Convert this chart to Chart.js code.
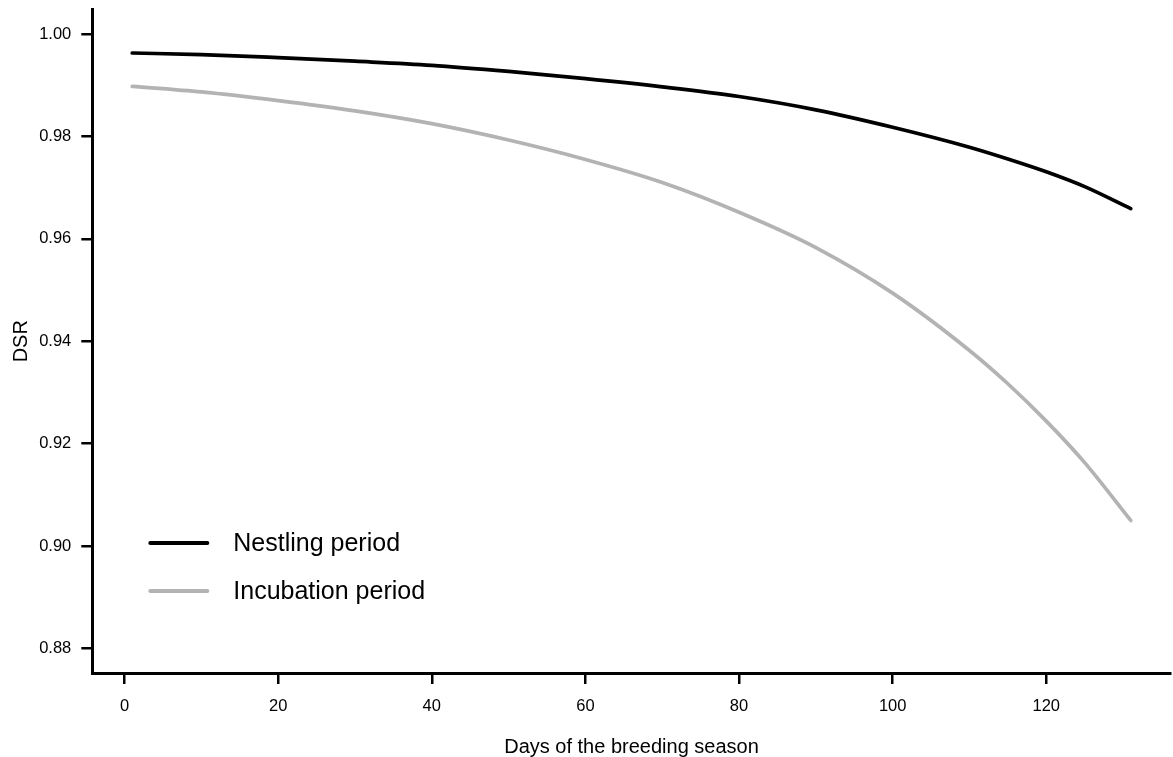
<!DOCTYPE html>
<html>
<head>
<meta charset="utf-8">
<script src="https://cdn.jsdelivr.net/npm/chart.js@4/dist/chart.umd.min.js"></script>
<style>
  html, body { margin: 0; padding: 0; background: #ffffff; overflow: hidden; }
  #wrap { width: 1173px; height: 757px; position: relative; }
</style>
</head>
<body>
<div id="wrap"><canvas id="c" width="1173" height="757"></canvas></div>
<script>
// ---- data ----
const days = [1, 10, 20, 30, 40, 50, 60, 70, 80, 90, 100, 110, 115, 120, 125, 131];
const nestlingDSR = [0.9963, 0.9960, 0.9954, 0.9947, 0.9939, 0.9927, 0.9913, 0.9897, 0.9878, 0.9852, 0.9818, 0.9779, 0.9756, 0.9731, 0.9702, 0.9659];
const incubationDSR = [0.9898, 0.9887, 0.9870, 0.9850, 0.9825, 0.9793, 0.9755, 0.9710, 0.9652, 0.9583, 0.9494, 0.9382, 0.9317, 0.9244, 0.9163, 0.9050];
const seriesNames = ["Nestling period", "Incubation period"];
const xTicks = [0, 20, 40, 60, 80, 100, 120];
const yTicks = [0.88, 0.90, 0.92, 0.94, 0.96, 0.98, 1.00];
const xTitle = "Days of the breeding season";
const yTitle = "DSR";

const FONT = "'Liberation Sans', Arial, Helvetica, sans-serif";
const toPts = (xs, ys) => xs.map((x, i) => ({ x: x, y: ys[i] }));

// In-plot legend (R style, bottom-left)
const legendPlugin = {
  id: 'rLegend',
  afterDatasetsDraw(chart) {
    const { ctx, chartArea } = chart;
    const x0 = chartArea.left + 58, x1 = x0 + 57, tx = chartArea.left + 141;
    const rows = [chartArea.bottom - 130, chartArea.bottom - 82];
    ctx.save();
    chart.data.datasets.forEach((ds, i) => {
      ctx.strokeStyle = ds.borderColor;
      ctx.lineWidth = 4;
      ctx.lineCap = 'round';
      ctx.beginPath();
      ctx.moveTo(x0, rows[i]);
      ctx.lineTo(x1, rows[i]);
      ctx.stroke();
      ctx.fillStyle = '#000000';
      ctx.font = "25px " + FONT;
      ctx.textAlign = 'left';
      ctx.textBaseline = 'middle';
      ctx.fillText(ds.label, tx, rows[i] + 1);
    });
    ctx.restore();
  }
};

new Chart(document.getElementById('c'), {
  type: 'line',
  data: {
    datasets: [
      { label: seriesNames[0], data: toPts(days, nestlingDSR), borderColor: '#000000', borderWidth: 3.7,
        pointRadius: 0, cubicInterpolationMode: 'monotone', fill: false, borderCapStyle: 'round' },
      { label: seriesNames[1], data: toPts(days, incubationDSR), borderColor: '#b3b3b3', borderWidth: 3.7,
        pointRadius: 0, cubicInterpolationMode: 'monotone', fill: false, borderCapStyle: 'round' }
    ]
  },
  options: {
    responsive: false,
    animation: false,
    devicePixelRatio: 1,
    layout: { padding: { left: 0, top: 0, right: 2.3, bottom: 0 } },
    plugins: { legend: { display: false }, title: { display: false }, tooltip: { enabled: false } },
    scales: {
      x: {
        type: 'linear',
        min: -4.2, max: 136.2,
        afterFit(scale) { scale.height = 84; },
        afterBuildTicks(scale) { scale.ticks = xTicks.map(v => ({ value: v })); },
        border: { display: true, color: '#000000', width: 3 },
        grid: { display: true, drawOnChartArea: false, drawTicks: true, tickLength: 11, lineWidth: 2.5, color: '#000000' },
        ticks: { color: '#000000', padding: 13, font: { family: FONT, size: 16.5 }, maxRotation: 0,
                 callback: (v) => String(v) },
        title: { display: true, text: xTitle, color: '#000000', font: { family: FONT, size: 20, lineHeight: 0.9 },
                 padding: { top: 0, bottom: 1 } }
      },
      y: {
        type: 'linear',
        min: 0.8752, max: 1.0048,
        afterFit(scale) { scale.width = 92.3; scale.paddingTop = 9.5; scale.paddingBottom = 0; },
        afterBuildTicks(scale) { scale.ticks = yTicks.map(v => ({ value: v })); },
        border: { display: true, color: '#000000', width: 3 },
        grid: { display: true, drawOnChartArea: false, drawTicks: true, tickLength: 11, lineWidth: 2.5, color: '#000000' },
        ticks: { color: '#000000', padding: 10, font: { family: FONT, size: 16.5 },
                 callback: (v) => Number(v).toFixed(2) },
        title: { display: true, text: yTitle, color: '#000000', font: { family: FONT, size: 20, lineHeight: 0.9 },
                 padding: { top: 12, bottom: 0 } }
      }
    }
  },
  plugins: [legendPlugin]
});
</script>
</body>
</html>
